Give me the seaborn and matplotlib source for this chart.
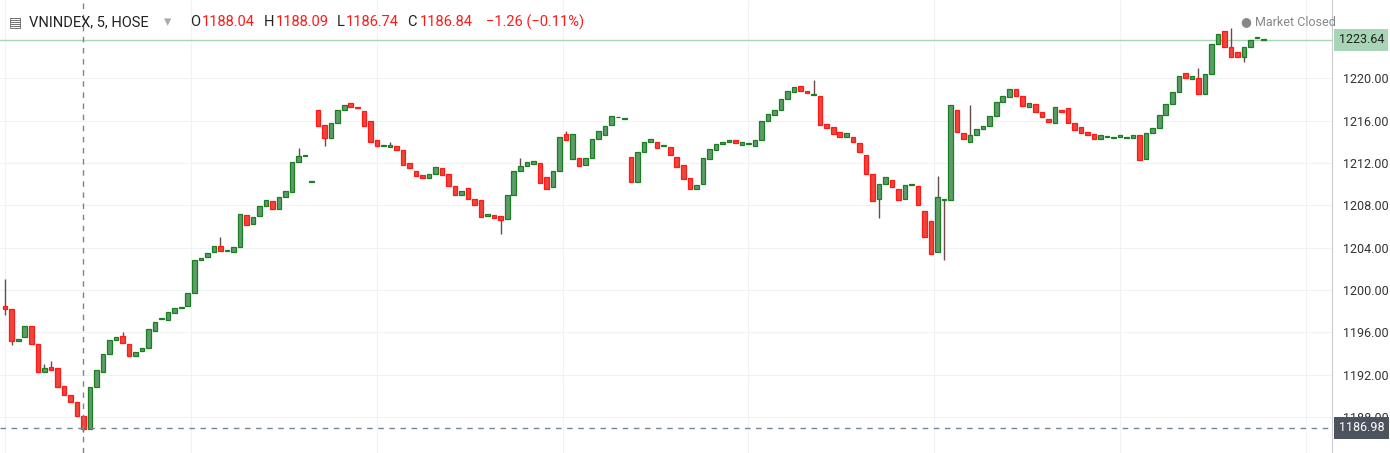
import matplotlib
matplotlib.use("Agg")
import matplotlib.pyplot as plt
import seaborn as sns
import numpy as np
import pandas as pd

opens = [1198.5,1198.2,1195.2,1195.6,1196.6,1194.9,1192.3,1192.7,1192.6,1190.9,1190.1,1189.4,1188.1,1186.9,1190.8,1192.3,1194.0,1195.3,1195.7,1194.9,
 1193.8,1194.2,1194.5,1196.1,1197.3,1197.2,1197.8,1198.3,1198.5,1199.7,1202.8,1203.1,1203.6,1204.2,1203.7,1203.6,1204.1,1207.1,1206.2,1207.0,
 1207.9,1208.4,1207.7,1208.8,1209.3,1212.1,1212.7,1210.2,1217.0,1215.6,
 1214.4,1215.8,1217.0,1217.7,1217.3,1216.9,1216.0,1214.2,1213.6,1213.5,1213.6,1213.2,1212.0,1211.2,1210.9,1210.6,1211.0,1211.5,1211.0,1209.8,
 1209.0,1209.6,1208.6,1208.5,1207.0,1207.1,1207.0,1206.7,1209.0,1211.2,1211.7,1211.9,1212.0,1210.7,1209.7,1211.2,1214.7,1212.4,1212.5,1211.8,
 1212.5,1214.3,1214.6,1215.6,1216.3,1216.2,1212.6,1210.2,1213.0,1214.0,1214.0,1213.6,1213.5,1212.6,1211.8,1210.6,1209.5,1210.0,1212.4,1213.2,
 1213.8,1214.0,1214.2,1213.7,1213.8,1213.6,1214.2,1216.0,1216.5,1217.0,1218.0,1218.7,1219.3,1218.8,1218.4,1218.3,1215.7,1215.4,1214.9,1214.5,
 1214.5,1213.9,1212.8,1211.0,1208.6,1210.0,1210.4,1209.5,1208.6,1209.9,1209.8,1207.5,1206.5,1203.6,1208.5,1208.5,1217.0,1214.8,1214.0,1214.6,
 1215.2,1215.5,1216.4,1217.8,1218.2,1219.0,1218.3,1217.3,1217.6,1216.8,1216.2,1215.8,1217.0,1217.2,1215.8,1215.4,1214.9,1214.7,1214.3,1214.5,
 1214.4,1214.5,1214.4,1214.4,1214.6,1212.4,1214.8,1215.3,1216.5,1217.6,1218.7,1220.5,1219.9,1220.0,1218.5,1220.4,1223.2,1224.5,1223.0,1222.5,
 1222.0,1223.0,1223.8,1223.6]
closes = [1198.2,1195.2,1195.4,1196.6,1194.9,1192.3,1192.6,1192.4,1190.8,1190.1,1189.4,1188.1,1186.9,1190.8,1192.4,1194.0,1195.3,1195.6,1195.0,1193.8,
 1194.1,1194.5,1196.3,1197.0,1197.3,1197.9,1198.3,1198.3,1199.7,1202.8,1203.0,1203.5,1204.2,1203.7,1203.7,1204.1,1207.2,1206.1,1206.9,1207.9,
 1208.5,1207.7,1208.8,1209.4,1212.1,1212.7,1212.7,1210.2,1215.5,1214.4,
 1215.8,1217.0,1217.5,1217.3,1217.2,1215.5,1214.0,1213.6,1213.6,1213.7,1213.2,1211.8,1211.5,1210.8,1210.6,1211.0,1211.6,1210.9,1209.8,1209.0,
 1209.4,1208.6,1208.0,1206.9,1207.2,1206.8,1206.6,1209.0,1211.2,1211.7,1212.1,1212.2,1210.1,1209.5,1211.2,1214.5,1214.2,1214.7,1211.7,1212.5,
 1214.3,1215.0,1215.5,1216.4,1216.3,1216.2,1210.2,1213.0,1214.0,1214.3,1213.4,1213.6,1212.8,1211.6,1210.5,1209.5,1209.9,1212.5,1213.3,1213.8,
 1214.0,1214.2,1213.9,1214.0,1213.8,1214.2,1216.0,1216.6,1217.0,1218.0,1218.8,1219.2,1218.8,1218.6,1218.4,1215.6,1215.3,1214.7,1214.5,1214.8,
 1214.0,1213.0,1211.0,1208.4,1210.0,1210.7,1209.7,1208.5,1209.9,1210.0,1208.0,1205.0,1203.4,1208.8,1208.5,1217.5,1214.9,1214.3,1214.6,1215.2,
 1215.5,1216.4,1217.8,1218.3,1219.0,1218.3,1217.4,1217.7,1216.8,1216.3,1215.9,1217.3,1216.8,1215.8,1215.1,1214.8,1214.6,1214.3,1214.6,1214.5,
 1214.4,1214.6,1214.4,1214.6,1212.3,1214.8,1215.3,1216.5,1217.6,1218.7,1220.2,1220.0,1220.2,1218.5,1220.4,1223.2,1224.2,1223.0,1222.0,1222.0,
 1223.0,1223.6,1223.8,1223.6]
# notable wick extremes (index -> value); other wicks hug the bodies
wick_highs = {0: 1201.0, 6: 1193.0, 7: 1193.3, 18: 1196.0, 33: 1205.0, 45: 1213.4, 59: 1214.0,
              79: 1212.5, 86: 1215.0, 124: 1219.8, 143: 1210.8, 148: 1217.5, 183: 1221.0, 188: 1224.8}
wick_lows = {0: 1197.6, 1: 1194.8, 12: 1186.6, 49: 1213.6, 76: 1205.3, 134: 1206.8,
             144: 1202.8, 190: 1221.5}

last_price = 1223.64
cross_price = 1186.98
ticks = [1188, 1192, 1196, 1200, 1204, 1208, 1212, 1216, 1220]

n = min(len(opens), len(closes))
df = pd.DataFrame({"i": np.arange(n), "open": opens[:n], "close": closes[:n]})
df["up"] = df["close"] >= df["open"]
df["high"] = [max(wick_highs.get(i, 0), o, c) for i, o, c in zip(df.i, df.open, df.close)]
df["low"] = [min(wick_lows.get(i, 1e9), o, c) for i, o, c in zip(df.i, df.open, df.close)]

sns.set_style("whitegrid", {"grid.color": "#f0f3f6", "axes.edgecolor": "#dfe3e8"})
plt.rcParams['font.family'] = ['Roboto', 'DejaVu Sans']

fig = plt.figure(figsize=(13.9, 4.53), dpi=100)
ax = fig.add_axes([0.0, 0.0, 1332/1390, 1.0])
YMIN, YMAX = 1184.6, 1227.4
ax.set_xlim(-0.8, 203.5)
ax.set_ylim(YMIN, YMAX)

up_fill, up_edge = "#5b9c69", "#1c7d23"
dn_fill, dn_edge = "#f0453a", "#ff1a1a"
ax.vlines(df.i, df.low, df.high, color="#6b4a4a", lw=1.0, zorder=2)
for up, fill, edge in [(True, up_fill, up_edge), (False, dn_fill, dn_edge)]:
    d = df[df.up == up]
    h = (d.close - d.open).abs().clip(lower=0.08)
    ax.bar(d.i, h, bottom=d[["open", "close"]].min(axis=1), width=0.7,
           color=fill, edgecolor=edge, linewidth=0.9, zorder=3)

ax.yaxis.tick_right()
ax.set_yticks(ticks)
ax.set_yticklabels([f"{t:.2f}" for t in ticks], fontsize=9, color="#333")
ax.tick_params(axis="y", length=0, pad=8)
ax.set_xticks(np.arange(0, 203, 28.5))
ax.set_xticklabels([])
ax.tick_params(axis="x", length=0)
for s in ["top", "left", "bottom"]:
    ax.spines[s].set_visible(False)
ax.spines["right"].set_color("#c8ccd2")

ax.axhline(cross_price, color="#758696", ls=(0, (4, 4)), lw=1, zorder=4)
ax.axvline(12, color="#758696", ls=(0, (4, 4)), lw=1, zorder=4)
ax.axhline(last_price, color="#a8d5b5", lw=1, zorder=1)
ax.text(1.005, (cross_price - YMIN) / (YMAX - YMIN), f"{cross_price:.2f}", transform=ax.transAxes,
        fontsize=9, color="white", va="center", ha="left", zorder=10,
        bbox=dict(boxstyle="square,pad=0.35", fc="#4c525e", ec="none"), clip_on=False)
ax.text(1.005, (last_price - YMIN) / (YMAX - YMIN), f"{last_price:.2f}", transform=ax.transAxes,
        fontsize=9, color="#222", va="center", ha="left", zorder=10,
        bbox=dict(boxstyle="square,pad=0.35", fc="#a8d5b5", ec="none"), clip_on=False)

fig.text(0.0065, 0.951, "▤", fontsize=10, color="#555", va="center")
parts = [("VNINDEX, 5, HOSE", "#222", 0.021), ("▾", "#aaa", 0.118),
         ("O", "#222", 0.137), ("1188.04", "#ff1a1a", 0.1455),
         ("H", "#222", 0.19), ("1188.09", "#ff1a1a", 0.1985),
         ("L", "#222", 0.2425), ("1186.74", "#ff1a1a", 0.249),
         ("C", "#222", 0.293), ("1186.84", "#ff1a1a", 0.302),
         ("−1.26 (−0.11%)", "#ff1a1a", 0.350)]
for t, c, x in parts:
    fig.text(x, 0.951, t, fontsize=10.5, color=c, va="center")
fig.text(0.893, 0.953, "● Market Closed", fontsize=9, color="#888", va="center")

fig.savefig("out.png", dpi=100)
